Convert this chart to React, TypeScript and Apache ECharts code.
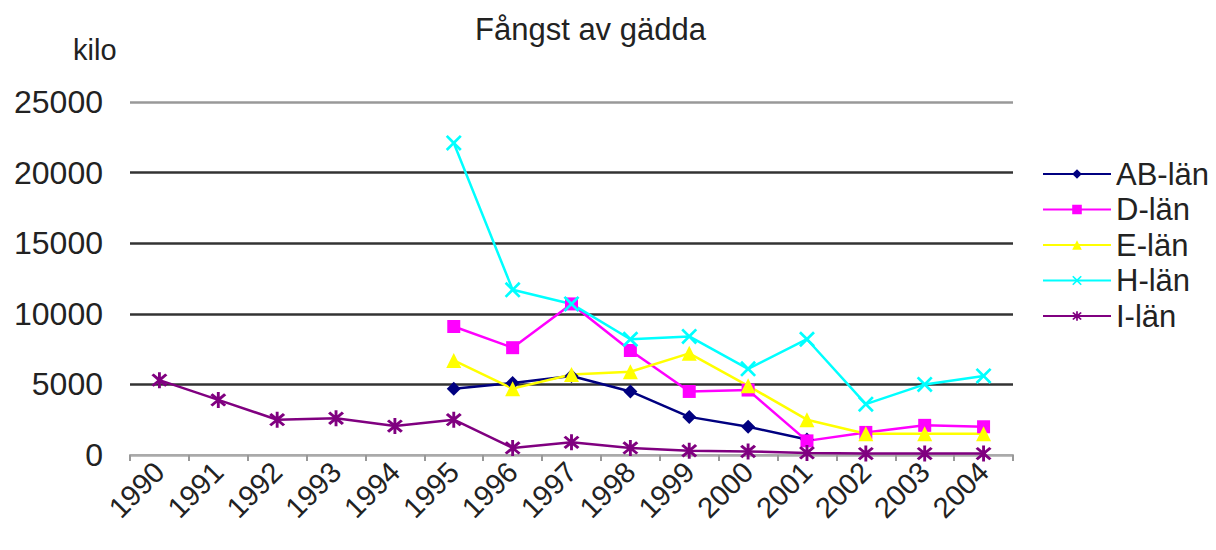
import React, { useEffect, useRef } from "react";
import * as echarts from "echarts";

const years = ["1990","1991","1992","1993","1994","1995","1996","1997","1998","1999","2000","2001","2002","2003","2004"];
const abLan = [null, null, null, null, null, 4700, 5100, 5600, 4500, 2700, 2000, 1100, null, null, null];
const dLan = [null, null, null, null, null, 9100, 7600, 10700, 7400, 4500, 4600, 1000, 1600, 2100, 2000];
const eLan = [null, null, null, null, null, 6700, 4700, 5700, 5900, 7200, 4900, 2500, 1500, 1500, 1500];
const hLan = [null, null, null, null, null, 22100, 11700, 10700, 8200, 8400, 6100, 8200, 3600, 5000, 5600];
const iLan = [5300, 3900, 2500, 2600, 2050, 2500, 500, 900, 500, 300, 250, 150, 100, 100, 100];
const seriesNames = ["AB-län", "D-län", "E-län", "H-län", "I-län"];

const X_SYMBOL = "path://M1.2,0 L5,3.8 L8.8,0 L10,1.2 L6.2,5 L10,8.8 L8.8,10 L5,6.2 L1.2,10 L0,8.8 L3.8,5 L0,1.2 Z";
const STAR_SYMBOL = "path://M1.4,0 L5,3.6 L8.6,0 L10,1.4 L6.4,5 L10,8.6 L8.6,10 L5,6.4 L1.4,10 L0,8.6 L3.6,5 L0,1.4 Z M4.1,-1 L5.9,-1 L5.9,11 L4.1,11 Z";

const FONT = "'Liberation Sans', Arial, sans-serif";

export default function App() {
  const ref = useRef<HTMLDivElement>(null);
  useEffect(() => {
    if (!ref.current) return;
    const chart = echarts.init(ref.current, null, { renderer: "svg" });
    const mk = (name: string, data: (number | null)[], color: string, symbol: string, size: number) => ({
      name,
      type: "line",
      data,
      symbol,
      symbolSize: size,
      showSymbol: true,
      connectNulls: false,
      lineStyle: { color, width: 2.5 },
      itemStyle: { color, borderColor: color, borderWidth: 0 },
      emphasis: { disabled: true },
    });
    chart.setOption({
      animation: false,
      backgroundColor: "#ffffff",
      title: [
        {
          text: "Fångst av gädda",
          left: 475,
          top: 14,
          padding: 0,
          textStyle: { fontFamily: FONT, fontSize: 31, fontWeight: "normal", color: "#222" },
        },
        {
          text: "kilo",
          left: 73,
          top: 35,
          padding: 0,
          textStyle: { fontFamily: FONT, fontSize: 29, fontWeight: "normal", color: "#222" },
        },
      ],
      legend: {
        orient: "vertical",
        left: 1042,
        top: 158,
        padding: 0,
        itemWidth: 68,
        itemHeight: 12,
        itemGap: 3.5,
        data: seriesNames,
        textStyle: { fontFamily: FONT, fontSize: 31, color: "#222", lineHeight: 32, padding: [0, 0, 0, 0] },
      },
      grid: { left: 130, right: 203, top: 102, bottom: 95, containLabel: false },
      xAxis: {
        type: "category",
        data: years,
        boundaryGap: true,
        axisLine: { show: true, lineStyle: { color: "#aaaaaa", width: 2 } },
        axisTick: { show: true, length: 6, lineStyle: { color: "#999999", width: 2 } },
        axisLabel: {
          rotate: 45,
          margin: 12,
          interval: 0,
          fontFamily: FONT,
          fontSize: 29,
          color: "#222",
        },
        splitLine: { show: false },
      },
      yAxis: {
        type: "value",
        min: 0,
        max: 25000,
        interval: 5000,
        axisLine: { show: false },
        axisTick: { show: false },
        axisLabel: {
          margin: 27,
          fontFamily: FONT,
          fontSize: 32,
          color: "#222",
          formatter: (v: number) => String(v),
        },
        splitLine: {
          show: true,
          lineStyle: { color: ["#aaaaaa", "#333333", "#333333", "#333333", "#333333", "#999999"], width: 2.5 },
        },
      },
      series: [
        mk(seriesNames[0], abLan, "#000080", "diamond", 14),
        mk(seriesNames[1], dLan, "#ff00ff", "rect", 13),
        mk(seriesNames[2], eLan, "#ffff00", "triangle", 15),
        mk(seriesNames[3], hLan, "#00ffff", X_SYMBOL, 16),
        mk(seriesNames[4], iLan, "#800080", STAR_SYMBOL, 16),
      ],
    });
    return () => chart.dispose();
  }, []);
  return (
    <div
      ref={ref}
      style={{ position: "fixed", left: 0, top: 0, width: 1216, height: 550, background: "#fff" }}
    />
  );
}
